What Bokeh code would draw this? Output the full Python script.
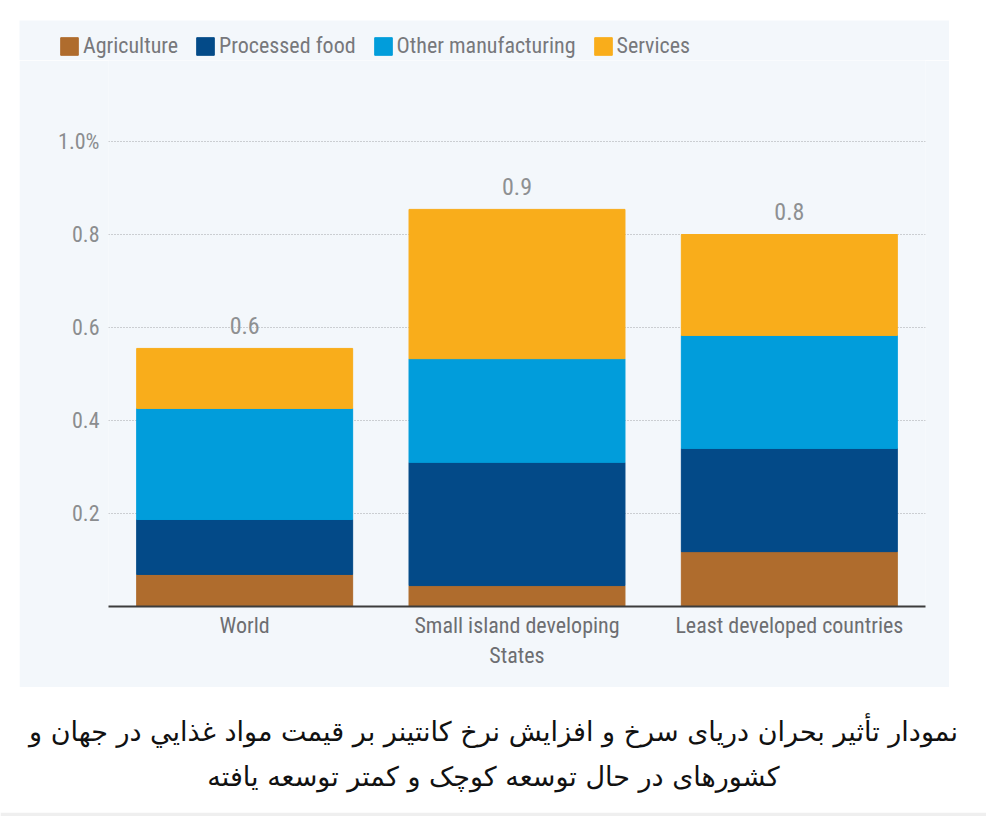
from bokeh.plotting import figure
from bokeh.models import ColumnDataSource, FactorRange, Range1d, FixedTicker, Legend, LegendItem, Spacer
from bokeh.layouts import column, row
from bokeh.core.properties import value
from bokeh.embed import file_html
from bokeh.resources import INLINE

# ---------------- data ----------------
categories = ["World", "Small island developing\nStates", "Least developed countries"]
series_keys = ["agriculture", "processed_food", "other_manufacturing", "services"]
series_labels = ["Agriculture", "Processed food", "Other manufacturing", "Services"]
agriculture = [0.069, 0.045, 0.118]
processed_food = [0.118, 0.265, 0.222]
other_manufacturing = [0.239, 0.223, 0.243]
services = [0.129, 0.321, 0.217]
total_labels = ["0.6", "0.9", "0.8"]
y_ticks = [0.2, 0.4, 0.6, 0.8, 1.0]
y_tick_labels = ["0.2", "0.4", "0.6", "0.8", "1.0%"]
caption_lines = [
    "نمودار تأثیر بحران دریای سرخ و افزایش نرخ کانتینر بر قیمت مواد غذايي در جهان و",
    "کشورهای در حال توسعه کوچک و کمتر توسعه یافته",
]

# ---------------- style ----------------
colors = ["#AF6C2D", "#034A88", "#019DDB", "#F9AD1B"]
BG = "#F3F7FB"
FONT = "'Liberation Sans Narrow', 'Arial Narrow', 'Roboto Condensed', 'Liberation Sans', sans-serif"

source = ColumnDataSource(dict(
    cat=categories,
    agriculture=agriculture,
    processed_food=processed_food,
    other_manufacturing=other_manufacturing,
    services=services,
))
totals = [a + b + c + d for a, b, c, d in zip(agriculture, processed_food, other_manufacturing, services)]
tot_src = ColumnDataSource(dict(cat=categories, total=totals, label=total_labels))

# ---------------- legend strip (same stacked data, kept out of its visible range) ----------------
lf = figure(
    x_range=FactorRange(*categories), y_range=Range1d(2, 3),
    width=930, height=40, output_backend="svg", toolbar_location=None,
    x_axis_type=None, y_axis_type=None,
    min_border=0, min_border_left=0, min_border_right=0, min_border_top=0, min_border_bottom=0,
    background_fill_color=BG, border_fill_color=BG, outline_line_color=None,
)
lf.grid.visible = False
swatches = lf.vbar_stack(series_keys, x="cat", width=0.793, color=colors, source=source)
legend = Legend(
    items=[LegendItem(label=lab, renderers=[r]) for lab, r in zip(series_labels, swatches)],
    orientation="horizontal", location=(39, 2), padding=0, margin=0, spacing=16,
    label_standoff=3, glyph_width=22, glyph_height=22,
    border_line_color=None, background_fill_alpha=0,
    label_text_font=FONT, label_text_font_size="22px", label_text_color="#77787B",
)
lf.add_layout(legend, "center")

# ---------------- main chart ----------------
p = figure(
    x_range=FactorRange(*categories), y_range=Range1d(0, 1.1742),
    width=930, height=627, output_backend="svg", toolbar_location=None,
    min_border_left=89, min_border_right=24, min_border_top=0, min_border_bottom=81,
    background_fill_color=BG, border_fill_color=BG, outline_line_color=None,
)

renderers = p.vbar_stack(series_keys, x="cat", width=0.793, color=colors, source=source)

p.text(x="cat", y="total", text="label", source=tot_src, y_offset=-23,
       text_align="center", text_baseline="alphabetic",
       text_font=value(FONT), text_font_size="24px", text_color="#8E9092")

# axes
p.yaxis.ticker = FixedTicker(ticks=y_ticks)
p.yaxis.major_label_overrides = dict(zip(y_ticks, y_tick_labels))
p.yaxis.axis_line_color = None
p.yaxis.major_tick_line_color = None
p.yaxis.minor_tick_line_color = None
p.yaxis.major_label_standoff = 3
p.yaxis.major_label_text_font = FONT
p.yaxis.major_label_text_font_size = "22px"
p.yaxis.major_label_text_color = "#8B8D8F"

p.xaxis.axis_line_color = "#3C3C3C"
p.xaxis.axis_line_width = 2
p.xaxis.major_tick_line_color = None
p.xaxis.minor_tick_line_color = None
p.xaxis.major_label_standoff = 0
p.xaxis.major_label_text_font = FONT
p.xaxis.major_label_text_font_size = "22px"
p.xaxis.major_label_text_color = "#6D6E71"

p.xgrid.grid_line_color = None
p.ygrid.grid_line_color = "#A3A5A8"
p.ygrid.grid_line_dash = "1 2"
p.ygrid.grid_line_width = 1

# ---------------- caption ----------------
cap_src = ColumnDataSource(dict(
    x=[0.5] * len(caption_lines),
    y=list(range(len(caption_lines))),
    text=caption_lines,
))
c = figure(
    x_range=Range1d(0, 1), y_range=Range1d(1.818, -1.0),
    width=986, height=129, output_backend="svg", toolbar_location=None,
    x_axis_type=None, y_axis_type=None,
    min_border=0, min_border_left=0, min_border_right=0, min_border_top=0, min_border_bottom=4,
    background_fill_color="white", border_fill_color="#EFEFEF", outline_line_color=None,
)
c.grid.visible = False
c.text(x="x", y="y", text="text", source=cap_src, text_align="center", text_baseline="middle",
       text_font=value("DejaVu Sans"), text_font_size="27px", text_color="#111111")

layout = column(
    Spacer(height=20),
    row(Spacer(width=19), lf, spacing=0),
    row(Spacer(width=19), p, spacing=0),
    c,
    spacing=0,
)
open("out.html", "w").write(file_html(layout, INLINE))
